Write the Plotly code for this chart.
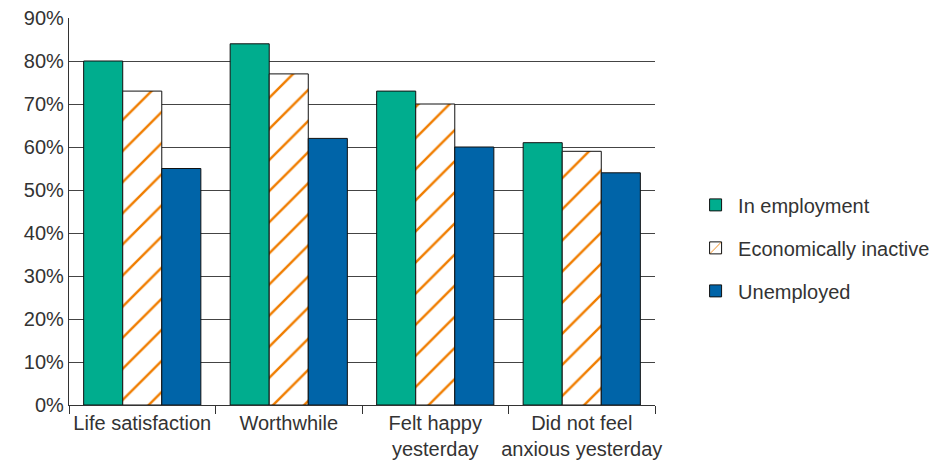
import plotly.graph_objects as go

categories = ["Life satisfaction", "Worthwhile", "Felt happy<br>yesterday", "Did not feel<br>anxious yesterday"]
in_employment = [80, 84, 73, 61]
economically_inactive = [73, 77, 70, 59]
unemployed = [55, 62, 60, 54]
y_ticks = [0, 10, 20, 30, 40, 50, 60, 70, 80, 90]
y_tick_labels = [f"{v}%" for v in y_ticks]

font_family = "Liberation Sans, Arial, sans-serif"
text_color = "#333333"
fs = 20

fig = go.Figure()
fig.add_trace(go.Bar(
    x=categories, y=in_employment, name="In employment", legendgroup="a",
    marker=dict(color="#00ad8e", line=dict(color="#111111", width=1)),
))
fig.add_trace(go.Bar(
    x=categories, y=economically_inactive, name="Economically inactive", legendgroup="b",
    marker=dict(color="white", line=dict(color="#111111", width=1),
                pattern=dict(shape="/", fgcolor="#f07d00", bgcolor="white", fgopacity=1,
                             size=22, solidity=0.11)),
))
fig.add_trace(go.Bar(
    x=categories, y=unemployed, name="Unemployed", legendgroup="c",
    marker=dict(color="#0064a8", line=dict(color="#111111", width=1)),
))

fig.update_layout(
    width=937, height=462,
    margin=dict(l=61, r=290, t=10, b=65),
    paper_bgcolor="white", plot_bgcolor="white",
    barmode="group", bargap=0.2, bargroupgap=0,
    font=dict(family=font_family, size=fs, color=text_color),
    showlegend=True,
    legend=dict(
        x=1.065, y=0.406, xanchor="left", yanchor="middle",
        traceorder="grouped", tracegroupgap=14,
        font=dict(family=font_family, size=fs, color=text_color),
        itemwidth=35,
    ),
    xaxis=dict(
        type="category", tickson="boundaries", ticks="outside", ticklen=8,
        tickcolor="#333333", tickwidth=1.3, tickangle=0, automargin=False,
        showline=True, linecolor="#333333", linewidth=1.3,
        showgrid=False,
        tickfont=dict(family=font_family, size=fs, color=text_color),
    ),
    yaxis=dict(
        range=[0, 90], tickvals=y_ticks, ticktext=y_tick_labels, automargin=False,
        ticklabeloverflow="allow",
        showline=True, linecolor="#333333", linewidth=1.3,
        showgrid=True, gridcolor="#444444", gridwidth=1.3,
        ticks="", ticklen=0,
        tickfont=dict(family=font_family, size=fs, color=text_color),
        zeroline=False,
    ),
)

fig.write_html("out.html")
